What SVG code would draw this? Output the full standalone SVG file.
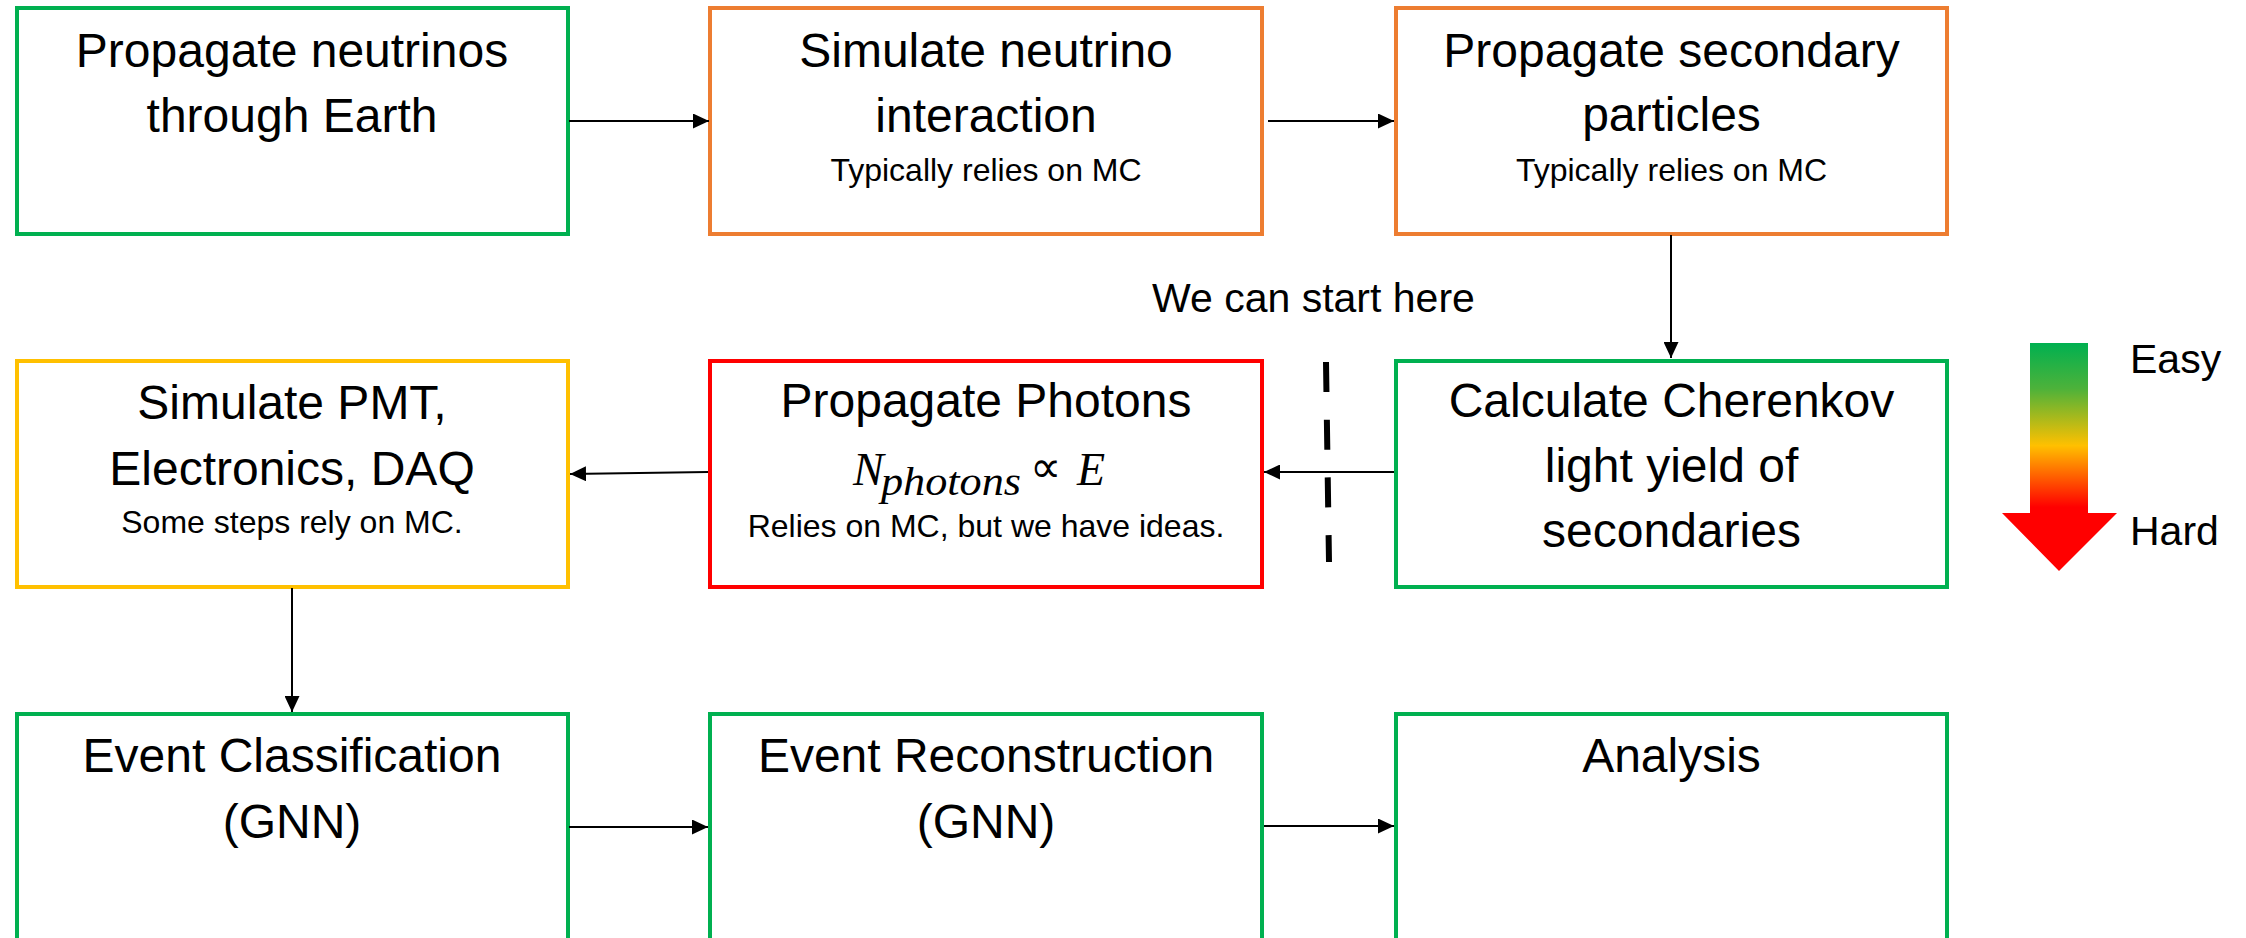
<svg xmlns="http://www.w3.org/2000/svg" width="2246" height="938" viewBox="0 0 2246 938">
<style>
.box{fill:#fff;stroke-width:4}
.g{stroke:#00B050}.o{stroke:#ED7D31}.r{stroke:#FF0000}.y{stroke:#FFC000}
.t{font-family:"Liberation Sans",Arial,sans-serif;font-size:48px;fill:#000;text-anchor:middle}
.s{font-family:"Liberation Sans",Arial,sans-serif;font-size:32px;fill:#000;text-anchor:middle}
.l{font-family:"Liberation Sans",Arial,sans-serif;font-size:41px;fill:#000}
.m{font-family:"Liberation Serif","Times New Roman",serif;font-style:italic;fill:#000}
.c{fill:none;stroke:#000;stroke-width:2}
</style>
<defs>
<marker id="ah" markerUnits="userSpaceOnUse" markerWidth="16" markerHeight="15" refX="16" refY="7.5" orient="auto">
<path d="M0,0 L16,7.5 L0,15 z" fill="#000"/>
</marker>
<linearGradient id="grad" x1="0" y1="0" x2="0" y2="1">
<stop offset="0" stop-color="#00B050"/>
<stop offset="0.2" stop-color="#4DB23A"/>
<stop offset="0.45" stop-color="#FFC000"/>
<stop offset="0.72" stop-color="#FF0000"/>
<stop offset="1" stop-color="#FF0000"/>
</linearGradient>
</defs>
<rect width="2246" height="938" fill="#fff"/>

<g id="n1"><rect class="box g" x="17" y="8" width="551" height="226"/>
<text class="t" x="292" y="67">Propagate neutrinos</text>
<text class="t" x="292" y="132">through Earth</text></g>

<g id="n2"><rect class="box o" x="710" y="8" width="552" height="226"/>
<text class="t" x="986" y="67">Simulate neutrino</text>
<text class="t" x="986" y="132">interaction</text>
<text class="s" x="986" y="181">Typically relies on MC</text></g>

<g id="n3"><rect class="box o" x="1396" y="8" width="551" height="226"/>
<text class="t" x="1671.5" y="67">Propagate secondary</text>
<text class="t" x="1671.5" y="131">particles</text>
<text class="s" x="1671.5" y="181">Typically relies on MC</text></g>

<g id="n4"><rect class="box y" x="17" y="361" width="551" height="226"/>
<text class="t" x="292" y="419">Simulate PMT,</text>
<text class="t" x="292" y="485">Electronics, DAQ</text>
<text class="s" x="292" y="533">Some steps rely on MC.</text></g>

<g id="n5"><rect class="box r" x="710" y="361" width="552" height="226"/>
<text class="t" x="986" y="417">Propagate Photons</text>
<text class="m" y="485"><tspan x="853" font-size="46">N</tspan><tspan x="881" y="495" font-size="40" textLength="140" lengthAdjust="spacingAndGlyphs">photons</tspan><tspan x="1030" y="482" font-style="normal" font-family="'DejaVu Sans',sans-serif" font-size="44">∝</tspan><tspan x="1077" y="485" font-size="46">E</tspan></text>
<text class="s" x="986" y="537">Relies on MC, but we have ideas.</text></g>

<g id="n6"><rect class="box g" x="1396" y="361" width="551" height="226"/>
<text class="t" x="1671.5" y="417">Calculate Cherenkov</text>
<text class="t" x="1671.5" y="482">light yield of</text>
<text class="t" x="1671.5" y="547">secondaries</text></g>

<g id="n7"><rect class="box g" x="17" y="714" width="551" height="260"/>
<text class="t" x="292" y="772">Event Classification</text>
<text class="t" x="292" y="838">(GNN)</text></g>

<g id="n8"><rect class="box g" x="710" y="714" width="552" height="260"/>
<text class="t" x="986" y="772">Event Reconstruction</text>
<text class="t" x="986" y="838">(GNN)</text></g>

<g id="n9"><rect class="box g" x="1396" y="714" width="551" height="260"/>
<text class="t" x="1671.5" y="772">Analysis</text></g>

<g id="connectors">
<path class="c" d="M569,121 H709" marker-end="url(#ah)"/>
<path class="c" d="M1268,121 H1394" marker-end="url(#ah)"/>
<path class="c" d="M1671,235 V358" marker-end="url(#ah)"/>
<path class="c" d="M1394,472 H1264" marker-end="url(#ah)"/>
<path class="c" d="M708,472 L570,474" marker-end="url(#ah)"/>
<path class="c" d="M292,588 V712" marker-end="url(#ah)"/>
<path class="c" d="M569,827 H708" marker-end="url(#ah)"/>
<path class="c" d="M1264,826 H1394" marker-end="url(#ah)"/>
</g>

<g id="start-marker">
<line x1="1326" y1="362" x2="1329" y2="562" stroke="#000" stroke-width="6" stroke-dasharray="30 27.7"/>
<text class="l" x="1152" y="312">We can start here</text>
</g>

<g id="legend">
<path d="M2030,343 H2088 V513 H2117 L2059,571 L2002,513 H2030 Z" fill="url(#grad)"/>
<text class="l" x="2130" y="373">Easy</text>
<text class="l" x="2130" y="545">Hard</text>
</g>
</svg>
